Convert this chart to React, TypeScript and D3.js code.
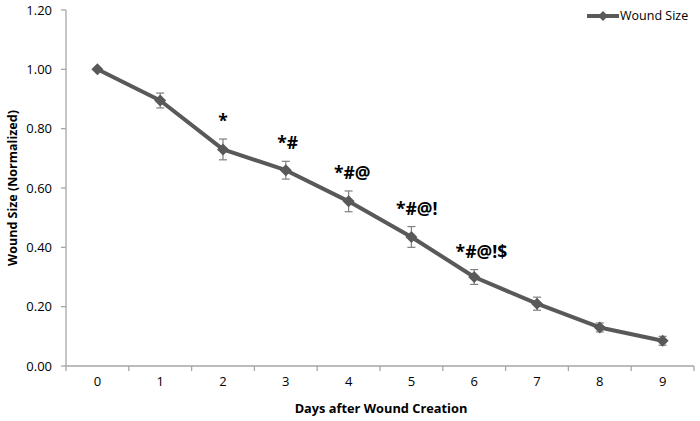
import React from "react";
import * as d3 from "d3";

const days = [0, 1, 2, 3, 4, 5, 6, 7, 8, 9];
const woundSize = [1.0, 0.895, 0.73, 0.66, 0.555, 0.435, 0.3, 0.21, 0.13, 0.085];
const errors = [0.0, 0.025, 0.035, 0.03, 0.035, 0.035, 0.025, 0.022, 0.015, 0.015];
const annotations = ["", "", "*", "*#", "*#@", "*#@!", "*#@!$", "", "", ""];
const yTicks = [0, 0.2, 0.4, 0.6, 0.8, 1.0, 1.2];

const W = 700;
const H = 421;
const left = 66;
const right = 694;
const top = 10;
const bottom = 366;
const lineColor = "#595959";
const axisColor = "#a6a6a6";
const font = "'Open Sans', 'Liberation Sans', sans-serif";

export default function App() {
  const x = d3.scaleBand<number>().domain(days).range([left, right]);
  const y = d3.scaleLinear().domain([0, 1.2]).range([bottom, top]);
  const cx = (d: number) => (x(d) as number) + x.bandwidth() / 2;
  const line = d3
    .line<number>()
    .x((_, i) => cx(days[i]))
    .y((v) => y(v));
  const diamond = (px: number, py: number, r: number) =>
    `M${px},${py - r}L${px + r},${py}L${px},${py + r}L${px - r},${py}Z`;
  const boundaries = d3.range(days.length + 1).map((i) => left + i * x.step());

  return (
    <svg width={W} height={H} style={{ position: "absolute", left: 0, top: 0, background: "#fff" }}>
      {/* axes */}
      <line x1={left} x2={left} y1={top} y2={bottom} stroke={axisColor} strokeWidth={1.3} />
      <line x1={left} x2={right} y1={bottom} y2={bottom} stroke={axisColor} strokeWidth={1.3} />
      {yTicks.map((t) => (
        <g key={t}>
          <line x1={left - 5} x2={left} y1={y(t)} y2={y(t)} stroke={axisColor} strokeWidth={1.3} />
          <text x={52} y={y(t)} dy="0.35em" textAnchor="end" fontSize={13} fill="#000" fontFamily={font}>
            {t.toFixed(2)}
          </text>
        </g>
      ))}
      {boundaries.map((b, i) => (
        <line key={i} x1={b} x2={b} y1={bottom} y2={bottom + 5} stroke={axisColor} strokeWidth={1.3} />
      ))}
      {days.map((d) => (
        <text key={d} x={cx(d)} y={386} textAnchor="middle" fontSize={13} fill="#000" fontFamily={font}>
          {d}
        </text>
      ))}
      <text x={381} y={413} textAnchor="middle" fontSize={12.8} fontWeight="bold" fontFamily={font}>
        Days after Wound Creation
      </text>
      <text
        transform={`translate(17,${(top + bottom) / 2}) rotate(-90)`}
        textAnchor="middle"
        fontSize={12.5}
        fontWeight="bold"
        fontFamily={font}
      >
        Wound Size (Normalized)
      </text>

      {/* error bars */}
      {days.map((d, i) =>
        errors[i] > 0 ? (
          <g key={d} stroke="#7f7f7f" strokeWidth={1.2}>
            <line x1={cx(d)} x2={cx(d)} y1={y(woundSize[i] + errors[i])} y2={y(woundSize[i] - errors[i])} />
            <line x1={cx(d) - 4} x2={cx(d) + 4} y1={y(woundSize[i] + errors[i])} y2={y(woundSize[i] + errors[i])} />
            <line x1={cx(d) - 4} x2={cx(d) + 4} y1={y(woundSize[i] - errors[i])} y2={y(woundSize[i] - errors[i])} />
          </g>
        ) : null
      )}

      {/* line */}
      <path d={line(woundSize) || ""} fill="none" stroke={lineColor} strokeWidth={4} strokeLinejoin="round" />
      {days.map((d, i) => (
        <path key={d} d={diamond(cx(d), y(woundSize[i]), 6)} fill={lineColor} />
      ))}

      {/* annotations */}
      {days.map((d, i) =>
        annotations[i] ? (
          <text
            key={d}
            x={cx(d) + (annotations[i].length - 1) * 1.8}
            y={y(woundSize[i] + errors[i]) - 12}
            textAnchor="middle"
            fontSize={17.5}
            fontWeight="bold"
            fontFamily={font}
            fill="#000"
          >
            {annotations[i]}
          </text>
        ) : null
      )}

      {/* legend */}
      <line x1={587} x2={619} y1={16} y2={16} stroke={lineColor} strokeWidth={4} />
      <path d={diamond(603, 16, 5)} fill={lineColor} />
      <text x={620} y={16} dy="0.35em" fontSize={12.5} fontFamily={font} fill="#000">
        Wound Size
      </text>
    </svg>
  );
}
